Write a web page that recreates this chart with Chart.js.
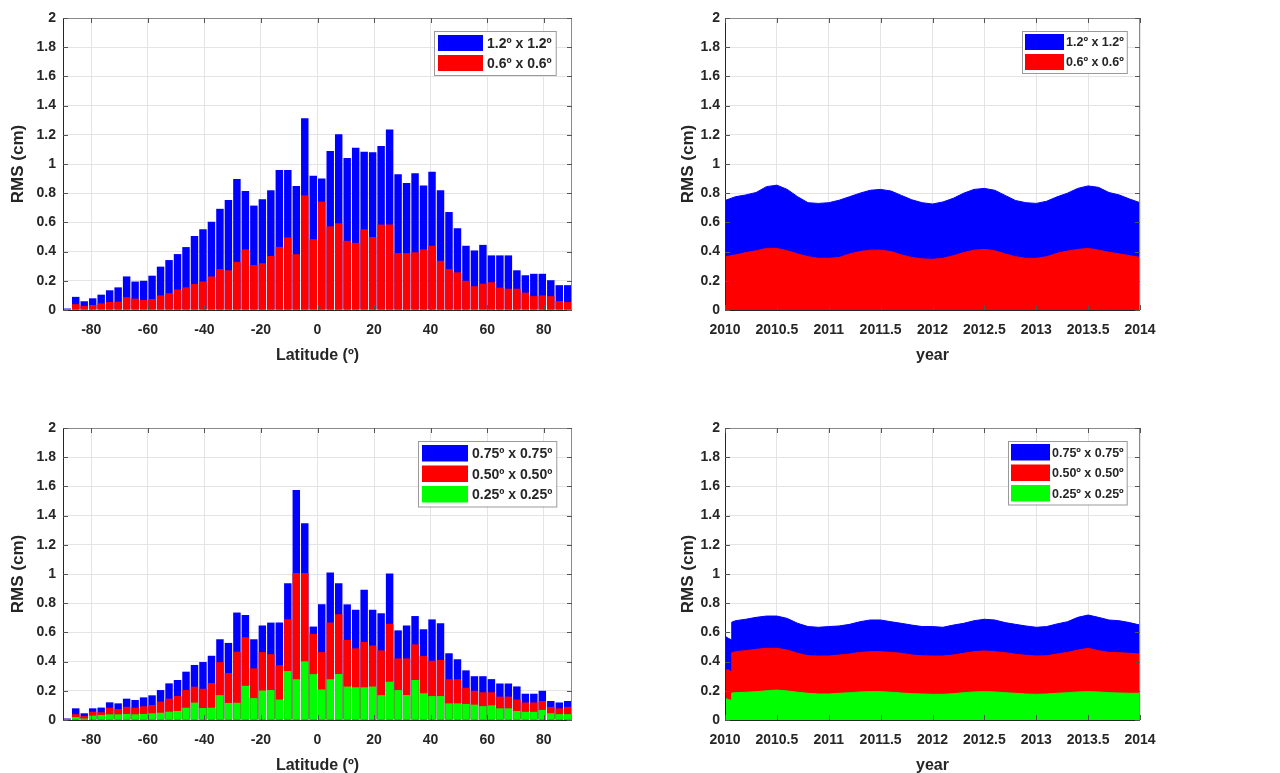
<!DOCTYPE html>
<html>
<head>
<meta charset="utf-8">
<script src="https://cdn.jsdelivr.net/npm/chart.js@4.4.1/dist/chart.umd.min.js"></script>
<style>
html, body { margin: 0; padding: 0; background: #fff; overflow: hidden; width: 1280px; height: 773px; }
.panel { position: absolute; width: 640px; height: 386px; }
</style>
</head>
<body>
<div class="panel" style="left:0;top:0"><canvas id="latTop" width="640" height="386"></canvas></div>
<div class="panel" style="left:640px;top:0"><canvas id="timeTop" width="640" height="386"></canvas></div>
<div class="panel" style="left:0;top:410px"><canvas id="latBottom" width="640" height="386"></canvas></div>
<div class="panel" style="left:640px;top:410px"><canvas id="timeBottom" width="640" height="386"></canvas></div>
<script>
// ---- data ----
var yTicks = [0, 0.2, 0.4, 0.6, 0.8, 1, 1.2, 1.4, 1.6, 1.8, 2];
var latTicks = [-80, -60, -40, -20, 0, 20, 40, 60, 80];
var yearTicks = [2010, 2010.5, 2011, 2011.5, 2012, 2012.5, 2013, 2013.5, 2014];

// 3 degree latitude bins (centres)
var latBins = [-88.5, -85.5, -82.5, -79.5, -76.5, -73.5, -70.5, -67.5, -64.5, -61.5,
               -58.5, -55.5, -52.5, -49.5, -46.5, -43.5, -40.5, -37.5, -34.5, -31.5,
               -28.5, -25.5, -22.5, -19.5, -16.5, -13.5, -10.5, -7.5, -4.5, -1.5,
               1.5, 4.5, 7.5, 10.5, 13.5, 16.5, 19.5, 22.5, 25.5, 28.5,
               31.5, 34.5, 37.5, 40.5, 43.5, 46.5, 49.5, 52.5, 55.5, 58.5,
               61.5, 64.5, 67.5, 70.5, 73.5, 76.5, 79.5, 82.5, 85.5, 88.5];

// top left: 1.2 x 1.2 and 0.6 x 0.6 grids
var latRms12 = [0.01, 0.09, 0.06, 0.08, 0.105, 0.135, 0.155, 0.23, 0.195, 0.2,
                0.235, 0.297, 0.342, 0.383, 0.431, 0.507, 0.553, 0.605, 0.693, 0.753,
                0.897, 0.815, 0.715, 0.758, 0.82, 0.959, 0.959, 0.85, 1.313, 0.92,
                0.9, 1.089, 1.203, 1.041, 1.112, 1.084, 1.08, 1.123, 1.237, 0.929,
                0.87, 0.936, 0.852, 0.947, 0.82, 0.671, 0.56, 0.44, 0.408, 0.446,
                0.374, 0.374, 0.374, 0.272, 0.238, 0.248, 0.248, 0.204, 0.17, 0.17];
var latRms06 = [0.005, 0.04, 0.027, 0.034, 0.045, 0.055, 0.057, 0.088, 0.078, 0.068,
                0.075, 0.1, 0.115, 0.14, 0.155, 0.178, 0.195, 0.23, 0.28, 0.272,
                0.33, 0.415, 0.308, 0.32, 0.37, 0.432, 0.497, 0.382, 0.785, 0.485,
                0.742, 0.573, 0.595, 0.474, 0.46, 0.553, 0.5, 0.585, 0.585, 0.39,
                0.39, 0.395, 0.415, 0.44, 0.337, 0.28, 0.258, 0.2, 0.163, 0.18,
                0.19, 0.153, 0.146, 0.146, 0.119, 0.095, 0.1, 0.095, 0.061, 0.054];

// bottom left: 0.75, 0.50 and 0.25 grids
var latRms075 = [0.01, 0.08, 0.046, 0.08, 0.085, 0.121, 0.114, 0.146, 0.137, 0.155,
                 0.169, 0.205, 0.251, 0.274, 0.331, 0.377, 0.397, 0.44, 0.553, 0.528,
                 0.736, 0.719, 0.553, 0.647, 0.667, 0.667, 0.936, 1.575, 1.347, 0.64,
                 0.793, 1.01, 0.937, 0.792, 0.755, 0.892, 0.755, 0.731, 1.003, 0.614,
                 0.648, 0.712, 0.621, 0.689, 0.662, 0.457, 0.416, 0.34, 0.3, 0.3,
                 0.28, 0.25, 0.25, 0.23, 0.18, 0.18, 0.2, 0.13, 0.12, 0.13];
var latRms050 = [0.008, 0.04, 0.027, 0.057, 0.053, 0.084, 0.075, 0.09, 0.084, 0.094,
                 0.103, 0.126, 0.146, 0.164, 0.205, 0.228, 0.214, 0.253, 0.396, 0.322,
                 0.468, 0.567, 0.354, 0.465, 0.451, 0.375, 0.69, 1.007, 1.007, 0.59,
                 0.465, 0.668, 0.724, 0.548, 0.491, 0.535, 0.51, 0.477, 0.66, 0.422,
                 0.422, 0.518, 0.438, 0.406, 0.411, 0.279, 0.279, 0.221, 0.2, 0.19,
                 0.19, 0.16, 0.16, 0.14, 0.12, 0.12, 0.13, 0.09, 0.08, 0.09];
var latRms025 = [0.005, 0.02, 0.01, 0.03, 0.034, 0.039, 0.039, 0.041, 0.039, 0.041,
                 0.046, 0.05, 0.057, 0.062, 0.084, 0.119, 0.082, 0.084, 0.17, 0.117,
                 0.118, 0.234, 0.15, 0.202, 0.205, 0.14, 0.335, 0.279, 0.402, 0.314,
                 0.209, 0.279, 0.315, 0.229, 0.224, 0.224, 0.229, 0.17, 0.262, 0.205,
                 0.171, 0.274, 0.183, 0.164, 0.164, 0.114, 0.114, 0.11, 0.105, 0.095,
                 0.1, 0.08, 0.08, 0.062, 0.056, 0.056, 0.069, 0.046, 0.04, 0.04];

// top right: time series
var yearsTop = [2010, 2010.1, 2010.2, 2010.3, 2010.4, 2010.5, 2010.6, 2010.7, 2010.8, 2010.9,
                2011, 2011.1, 2011.2, 2011.3, 2011.4, 2011.5, 2011.6, 2011.7, 2011.8, 2011.9,
                2012, 2012.1, 2012.2, 2012.3, 2012.4, 2012.5, 2012.6, 2012.7, 2012.8, 2012.9,
                2013, 2013.1, 2013.2, 2013.3, 2013.4, 2013.5, 2013.6, 2013.7, 2013.8, 2013.9,
                2014];
var timeRms12 = [0.75, 0.776, 0.788, 0.805, 0.845, 0.855, 0.826, 0.776, 0.735, 0.73,
                 0.735, 0.752, 0.776, 0.8, 0.82, 0.826, 0.815, 0.785, 0.755, 0.735,
                 0.726, 0.74, 0.765, 0.8, 0.826, 0.833, 0.82, 0.785, 0.75, 0.735,
                 0.73, 0.745, 0.775, 0.8, 0.833, 0.85, 0.84, 0.805, 0.788, 0.76,
                 0.735];
var timeRms06 = [0.365, 0.377, 0.393, 0.406, 0.422, 0.422, 0.406, 0.384, 0.365, 0.354,
                 0.354, 0.36, 0.384, 0.4, 0.41, 0.41, 0.4, 0.377, 0.36, 0.35,
                 0.347, 0.354, 0.372, 0.393, 0.41, 0.415, 0.406, 0.384, 0.365, 0.354,
                 0.354, 0.365, 0.388, 0.404, 0.415, 0.422, 0.41, 0.395, 0.384, 0.372,
                 0.36];

// bottom right: time series
var yearsBottom = [2010, 2010.03, 2010.06, 2010.065,
                   2010.1, 2010.2, 2010.3, 2010.4, 2010.5, 2010.6, 2010.7, 2010.8, 2010.9,
                   2011, 2011.1, 2011.2, 2011.3, 2011.4, 2011.5, 2011.6, 2011.7, 2011.8, 2011.9,
                   2012, 2012.1, 2012.2, 2012.3, 2012.4, 2012.5, 2012.6, 2012.7, 2012.8, 2012.9,
                   2013, 2013.1, 2013.2, 2013.3, 2013.4, 2013.5, 2013.6, 2013.7, 2013.8, 2013.9,
                   2014];
var timeRms075 = [0.575, 0.56, 0.55, 0.67,
                  0.68, 0.69, 0.703, 0.712, 0.712, 0.696, 0.662, 0.64, 0.635,
                  0.64, 0.644, 0.655, 0.673, 0.685, 0.685, 0.673, 0.662, 0.65, 0.64,
                  0.64, 0.635, 0.65, 0.662, 0.68, 0.69, 0.685, 0.667, 0.655, 0.644,
                  0.635, 0.64, 0.658, 0.673, 0.703, 0.719, 0.703, 0.685, 0.68, 0.667,
                  0.65];
var timeRms050 = [0.34, 0.345, 0.33, 0.46,
                  0.468, 0.475, 0.484, 0.491, 0.491, 0.479, 0.457, 0.44, 0.438,
                  0.438, 0.445, 0.452, 0.463, 0.468, 0.468, 0.463, 0.457, 0.445, 0.44,
                  0.438, 0.438, 0.445, 0.457, 0.468, 0.473, 0.468, 0.461, 0.45, 0.443,
                  0.438, 0.44, 0.452, 0.463, 0.479, 0.491, 0.475, 0.463, 0.461, 0.457,
                  0.452];
var timeRms025 = [0.15, 0.14, 0.135, 0.185,
                  0.187, 0.19, 0.194, 0.2, 0.205, 0.199, 0.19, 0.183, 0.178,
                  0.178, 0.183, 0.187, 0.192, 0.194, 0.194, 0.19, 0.185, 0.18, 0.178,
                  0.176, 0.176, 0.18, 0.187, 0.192, 0.194, 0.192, 0.187, 0.183, 0.178,
                  0.176, 0.178, 0.183, 0.187, 0.192, 0.194, 0.192, 0.187, 0.185, 0.183,
                  0.183];

var BLUE = '#0000ff', RED = '#ff0000', GREEN = '#00ff00';

Chart.defaults.font.family = "'Liberation Sans', Arial, sans-serif";
Chart.defaults.font.weight = 'bold';
Chart.defaults.color = '#262626';

// MATLAB-like box with inward ticks
var axesBox = {
    id: 'axesBox',
    afterDatasetsDraw: function(chart) {
        var ctx = chart.ctx, a = chart.chartArea;
        var xs = chart.scales.x, ys = chart.scales.y;
        ctx.save();
        ctx.lineWidth = 1;
        ctx.strokeStyle = '#262626';
        ctx.beginPath();
        ctx.moveTo(a.left + 0.5, a.top);
        ctx.lineTo(a.left + 0.5, a.bottom + 0.5);
        ctx.lineTo(a.right, a.bottom + 0.5);
        ctx.stroke();
        ctx.strokeStyle = '#8a8a8a';
        ctx.beginPath();
        ctx.moveTo(a.left, a.top + 0.5);
        ctx.lineTo(a.right - 0.5, a.top + 0.5);
        ctx.lineTo(a.right - 0.5, a.bottom);
        ctx.stroke();
        ctx.strokeStyle = '#555';
        ctx.beginPath();
        xs.ticks.forEach(function(t) {
            var px = Math.round(xs.getPixelForValue(t.value)) + 0.5;
            ctx.moveTo(px, a.bottom); ctx.lineTo(px, a.bottom - 5);
            ctx.moveTo(px, a.top); ctx.lineTo(px, a.top + 5);
        });
        ys.ticks.forEach(function(t) {
            var py = Math.round(ys.getPixelForValue(t.value)) + 0.5;
            ctx.moveTo(a.left, py); ctx.lineTo(a.left + 5, py);
            ctx.moveTo(a.right, py); ctx.lineTo(a.right - 5, py);
        });
        ctx.stroke();
        ctx.restore();
    }
};

// boxed legend inside the plot, top right
var boxLegend = {
    id: 'boxLegend',
    afterDraw: function(chart, args, opts) {
        var ctx = chart.ctx, a = chart.chartArea;
        var sets = chart.data.datasets;
        ctx.save();
        ctx.font = opts.font;
        var textW = 0;
        sets.forEach(function(d) { textW = Math.max(textW, ctx.measureText(d.label).width); });
        var w = opts.pad + opts.patchW + opts.gap + textW + opts.pad;
        var h = opts.pad * 2 + sets.length * opts.rowH - opts.rowGap;
        var x = Math.round(a.right - opts.right - w), y = Math.round(a.top + opts.top);
        ctx.fillStyle = '#fff';
        ctx.fillRect(x, y, w, h);
        ctx.strokeStyle = '#9a9a9a';
        ctx.lineWidth = 1;
        ctx.strokeRect(x + 0.5, y + 0.5, w, h);
        sets.forEach(function(d, i) {
            var ry = y + opts.pad + i * opts.rowH;
            var ph = opts.rowH - opts.rowGap;
            ctx.fillStyle = d.backgroundColor;
            ctx.fillRect(x + opts.pad, ry, opts.patchW, ph);
            ctx.fillStyle = '#262626';
            ctx.textAlign = 'left';
            ctx.textBaseline = 'middle';
            ctx.fillText(d.label, x + opts.pad + opts.patchW + opts.gap, ry + ph / 2 + 1);
        });
        ctx.restore();
    }
};

function makeOptions(p) {
    return {
        responsive: false,
        animation: false,
        layout: { padding: { left: 0, right: p.right, top: 18, bottom: 0 } },
        plugins: {
            legend: { display: false },
            tooltip: { enabled: false },
            boxLegend: p.legend
        },
        scales: {
            x: {
                type: 'linear',
                min: p.xMin,
                max: p.xMax,
                offset: false,
                grid: { color: '#e4e4e4', drawTicks: false, offset: false },
                border: { display: false },
                afterBuildTicks: function(scale) {
                    scale.ticks = p.xTicks.map(function(v) { return { value: v }; });
                },
                afterFit: function(scale) { scale.height = 386 - 310; },
                ticks: {
                    padding: 12,
                    maxRotation: 0,
                    autoSkip: false,
                    font: { size: 14, weight: 'bold' },
                    callback: function(v) { return String(v); }
                },
                title: {
                    display: true,
                    text: p.xTitle,
                    font: { size: 16, weight: 'bold', lineHeight: 1.2 },
                    padding: { top: 0, bottom: 21 }
                }
            },
            y: {
                min: 0,
                max: 2,
                grid: { color: '#e4e4e4', drawTicks: false },
                border: { display: false },
                afterBuildTicks: function(scale) {
                    scale.ticks = yTicks.map(function(v) { return { value: v }; });
                },
                afterFit: function(scale) { scale.width = p.left; },
                ticks: {
                    padding: p.yPad,
                    font: { size: 14, weight: 'bold' },
                    callback: function(v) { return String(v); }
                },
                title: {
                    display: true,
                    text: 'RMS (cm)',
                    font: { size: 17, weight: 'bold', lineHeight: 1.2 },
                    padding: { top: p.yTitlePad, bottom: 0 }
                }
            }
        }
    };
}

function barSet(label, values, color, order) {
    return {
        label: label,
        data: latBins.map(function(x, i) { return { x: x, y: values[i] }; }),
        backgroundColor: color,
        borderWidth: 0,
        grouped: false,
        barPercentage: 0.88,
        categoryPercentage: 1,
        order: order
    };
}

function areaSet(label, years, values, color, order) {
    return {
        label: label,
        data: years.map(function(x, i) { return { x: x, y: values[i] }; }),
        backgroundColor: color,
        borderColor: color,
        borderWidth: 1,
        pointRadius: 0,
        tension: 0,
        fill: 'origin',
        order: order
    };
}

var legendLeft2 = { font: "bold 14px 'Liberation Sans', Arial, sans-serif", pad: 4, patchW: 45, gap: 4, rowH: 20, rowGap: 4, right: 16, top: 13 };
var legendLeft3 = { font: "bold 14px 'Liberation Sans', Arial, sans-serif", pad: 4, patchW: 46, gap: 4, rowH: 20.5, rowGap: 4, right: 16, top: 13 };
var legendRight2 = { font: "bold 12.5px 'Liberation Sans', Arial, sans-serif", pad: 3, patchW: 39, gap: 2, rowH: 20, rowGap: 4, right: 13, top: 13 };
var legendRight3 = { font: "bold 12.5px 'Liberation Sans', Arial, sans-serif", pad: 3, patchW: 39, gap: 2, rowH: 20.5, rowGap: 4, right: 13, top: 13 };

var leftPanel = { xMin: -90, xMax: 90, xTicks: latTicks, xTitle: 'Latitude (\u00ba)', left: 63, right: 640 - 572, yPad: 7, yTitlePad: 8 };
var rightPanel = { xMin: 2010, xMax: 2014, xTicks: yearTicks, xTitle: 'year', left: 85, right: 640 - 500, yPad: 5, yTitlePad: 38 };

new Chart(document.getElementById('latTop'), {
    type: 'bar',
    data: { datasets: [
        barSet('1.2\u00ba x 1.2\u00ba', latRms12, BLUE, 2),
        barSet('0.6\u00ba x 0.6\u00ba', latRms06, RED, 1)
    ] },
    options: makeOptions(Object.assign({ legend: legendLeft2 }, leftPanel)),
    plugins: [axesBox, boxLegend]
});

new Chart(document.getElementById('timeTop'), {
    type: 'line',
    data: { datasets: [
        areaSet('1.2\u00ba x 1.2\u00ba', yearsTop, timeRms12, BLUE, 2),
        areaSet('0.6\u00ba x 0.6\u00ba', yearsTop, timeRms06, RED, 1)
    ] },
    options: makeOptions(Object.assign({ legend: legendRight2 }, rightPanel)),
    plugins: [axesBox, boxLegend]
});

new Chart(document.getElementById('latBottom'), {
    type: 'bar',
    data: { datasets: [
        barSet('0.75\u00ba x 0.75\u00ba', latRms075, BLUE, 3),
        barSet('0.50\u00ba x 0.50\u00ba', latRms050, RED, 2),
        barSet('0.25\u00ba x 0.25\u00ba', latRms025, GREEN, 1)
    ] },
    options: makeOptions(Object.assign({ legend: legendLeft3 }, leftPanel)),
    plugins: [axesBox, boxLegend]
});

new Chart(document.getElementById('timeBottom'), {
    type: 'line',
    data: { datasets: [
        areaSet('0.75\u00ba x 0.75\u00ba', yearsBottom, timeRms075, BLUE, 3),
        areaSet('0.50\u00ba x 0.50\u00ba', yearsBottom, timeRms050, RED, 2),
        areaSet('0.25\u00ba x 0.25\u00ba', yearsBottom, timeRms025, GREEN, 1)
    ] },
    options: makeOptions(Object.assign({ legend: legendRight3 }, rightPanel)),
    plugins: [axesBox, boxLegend]
});
</script>
</body>
</html>
